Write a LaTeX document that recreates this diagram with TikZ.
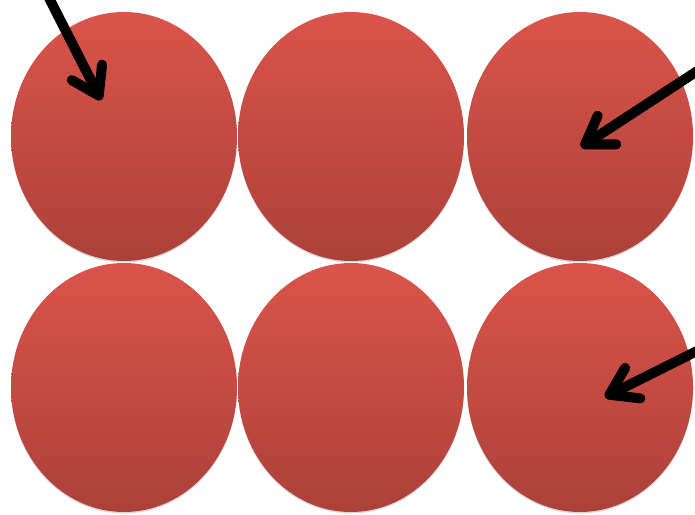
\documentclass[tikz,border=0pt]{standalone}
\usetikzlibrary{arrows.meta,shadows,shapes.geometric}
\definecolor{redtop}{HTML}{DA544A}
\definecolor{redbot}{HTML}{AC4139}
\tikzset{
  x=1pt,y=-1pt,
  blob/.style={ellipse, minimum width=226pt, minimum height=249pt, inner sep=0pt,
    top color=redtop, bottom color=redbot, draw=none,
    drop shadow={shadow xshift=0pt, shadow yshift=-1.5pt, opacity=0.15, fill=black}},
  pointer/.style={line width=10pt, line cap=round, black,
    -{Straight Barb[length=26pt,width=34pt,round]}}
}
\begin{document}
\begin{tikzpicture}
\useasboundingbox (0,0) rectangle (695,514);
\fill[white] (0,0) rectangle (695,514);
\node[blob] (e1) at (124,136.5) {};
\node[blob] (e2) at (351,136.5) {};
\node[blob] (e3) at (580,136.5) {};
\node[blob] (e4) at (124,387.5) {};
\node[blob] (e5) at (351,387.5) {};
\node[blob] (e6) at (580,387.5) {};
\begin{scope}
\clip (0,0) rectangle (695,514);
\coordinate (s1) at (47,-6);
\coordinate (t1) at (101,100);
\coordinate (s2) at (705,66);
\coordinate (t2) at (581,147);
\coordinate (s3) at (705,347);
\coordinate (t3) at (605,397);
\draw[pointer] (s1) -- (t1);
\draw[pointer] (s2) -- (t2);
\draw[pointer] (s3) -- (t3);
\end{scope}
\end{tikzpicture}
\end{document}
